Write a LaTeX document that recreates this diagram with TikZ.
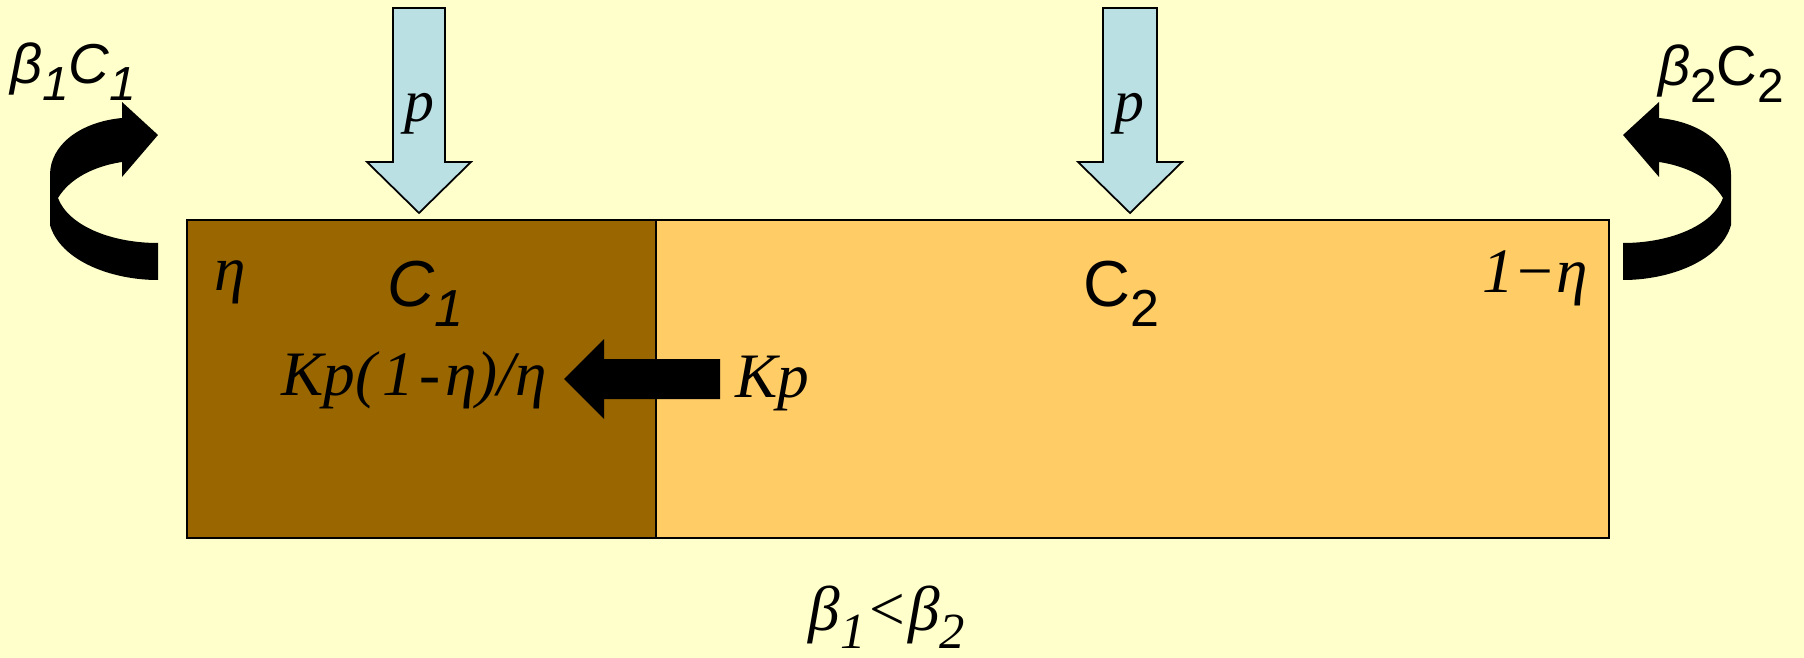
\documentclass[tikz,border=0pt]{standalone}
\usepackage{fontspec}
\setmainfont{Liberation Serif}
\setsansfont{Liberation Sans}
\usepackage{graphicx}
\usepackage{xcolor}
\usepackage{tikz}

\definecolor{paleyellow}{RGB}{255,255,204}
\definecolor{darkbrown}{RGB}{153,102,0}
\definecolor{lightorange}{RGB}{255,204,102}
\definecolor{lightblue}{RGB}{187,224,228}
\newcommand{\lowsub}[2][0.85]{\raisebox{-0.3em}{\scalebox{#1}{#2}}}

\begin{document}
\begin{tikzpicture}[
    x=0.01cm, y=-0.01cm,
    every node/.style={inner sep=0pt},
    half/.style={draw, fill=#1, line width=0.6pt, minimum height=3.18cm, outer sep=0pt, anchor=north west},
    pdrop/.style={draw, fill=lightblue, line width=0.5pt},
    bigarr/.style={fill=black},
    lab/.style={font=\fontsize{18}{20}\selectfont\itshape, anchor=base},
    slab/.style={font=\fontsize{18.5}{20}\selectfont\sffamily, anchor=base},
    corner/.style={font=\fontsize{16}{18}\selectfont\sffamily, anchor=base}
]
\fill[paleyellow] (0,0) rectangle (1804,658);
\useasboundingbox (0,0) rectangle (1804,658);

% the two compartments
\node[half=darkbrown, minimum width=4.69cm] (c1box) at (187,220) {};
\node[half=lightorange, minimum width=9.52cm] (c2box) at (c1box.north east) {};

% incoming p
\draw[pdrop] (393,8) -- (445,8) -- (445,162) -- (471,162) -- (419,213) -- (367,162) -- (393,162) -- cycle;
\draw[pdrop] (1103,8) -- (1157,8) -- (1157,162) -- (1182,162) -- (1130,213) -- (1078,162) -- (1103,162) -- cycle;
\node[lab, font=\fontsize{17}{20}\selectfont\itshape] (p1) at (419,122) {p};
\node[lab, font=\fontsize{17}{20}\selectfont\itshape] (p2) at (1129,122) {p};

% transfer from C2 into C1
\fill[bigarr] (720,359) -- (604,359) -- (604,339) -- (564,379) -- (604,419) -- (604,399) -- (720,399) -- cycle;

% outflow arrows
\fill[bigarr] (158,243) .. controls (110,243) and (68,225) .. (58,198)
  .. controls (70,178) and (95,166) .. (122,162) -- (122,177) -- (158,135) -- (122,102) -- (122,118)
  .. controls (80,122) and (50,145) .. (50,175) -- (50,225)
  .. controls (60,260) and (110,280) .. (158,280) -- cycle;
\fill[bigarr] (1623,243) .. controls (1671,243) and (1713,225) .. (1723,198)
  .. controls (1711,178) and (1686,166) .. (1659,162) -- (1659,177) -- (1623,135) -- (1659,102) -- (1659,118)
  .. controls (1701,122) and (1731,145) .. (1731,175) -- (1731,225)
  .. controls (1721,260) and (1671,280) .. (1623,280) -- cycle;

% labels
\node[lab] (eta) at (230,291) {η};
\node[slab] (c1) at (425,307) {\itshape C\lowsub[0.8]{1}};
\node[slab] (c2) at (1121,307) {C\lowsub[0.8]{2}};
\node[lab] (oneeta) at (1535,293) {1−η};
\node[lab] (flux1) at (414,395) {Kp(\kern0.1em1\kern0.08em-\kern0.08emη)/η};
\node[lab] (flux2) at (772,397) {Kp};
\node[corner] (bc1) at (73,84) {\itshape β\lowsub{1}C\lowsub{1}};
\node[corner] (bc2) at (1721,86) {\textit{β}\lowsub{2}C\lowsub{2}};
\node[lab] (cmp) at (887,630) {β\lowsub[0.8]{1}<β\lowsub[0.8]{2}};
\end{tikzpicture}
\end{document}
